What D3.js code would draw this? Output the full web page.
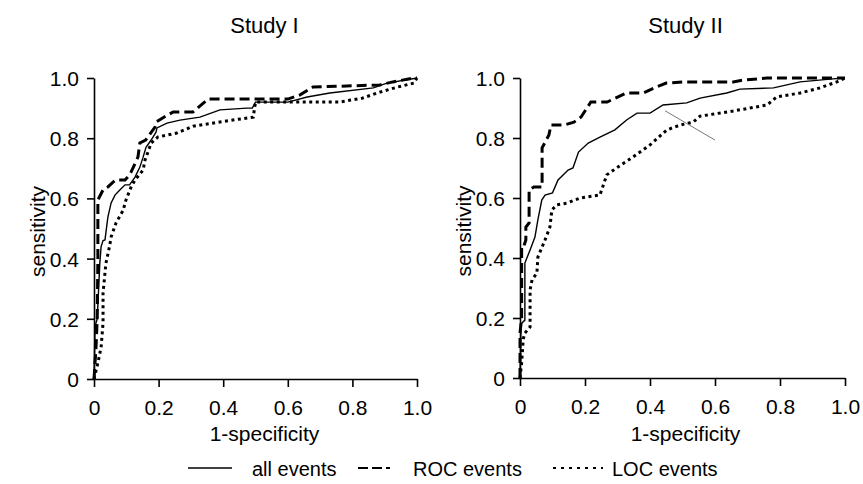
<!DOCTYPE html>
<html>
<head>
<meta charset="utf-8">
<script src="https://cdn.jsdelivr.net/npm/d3@7"></script>
<style>
  body { margin: 0; background: #fff; }
  svg { font-family: "Liberation Sans", Arial, sans-serif; }
  .axis path, .axis line { stroke: #000; stroke-width: 1.6; }
  .axis text { font-size: 21px; fill: #000; }
</style>
</head>
<body>
<svg id="chart" width="863" height="484"></svg>
<script>
// tick values shared by both panels
var ticks = [0, 0.2, 0.4, 0.6, 0.8, 1.0];
var titles = ["Study I", "Study II"];
var seriesNames = ["all events", "ROC events", "LOC events"];

// Study I (1-specificity, sensitivity)
var s1_all_x = [0, 0.003, 0.006, 0.01, 0.018, 0.022, 0.028, 0.034, 0.043, 0.053, 0.065, 0.08, 0.096, 0.11, 0.127, 0.142, 0.152, 0.161, 0.177, 0.192, 0.195, 0.226, 0.266, 0.328, 0.39, 0.473, 0.49, 0.5, 0.6, 0.66, 0.73, 0.865, 0.907, 1.0];
var s1_all_y = [0, 0.16, 0.186, 0.2, 0.385, 0.44, 0.46, 0.462, 0.538, 0.585, 0.611, 0.628, 0.645, 0.645, 0.671, 0.704, 0.737, 0.77, 0.794, 0.82, 0.834, 0.85, 0.86, 0.87, 0.894, 0.9, 0.9, 0.92, 0.92, 0.937, 0.95, 0.967, 0.983, 1.0];
var s1_roc_x = [0, 0.003, 0.006, 0.01, 0.012, 0.012, 0.028, 0.043, 0.059, 0.068, 0.096, 0.11, 0.115, 0.136, 0.142, 0.16, 0.189, 0.194, 0.215, 0.245, 0.306, 0.353, 0.6, 0.638, 0.678, 0.885, 0.925, 0.99, 1.0];
var s1_roc_y = [0, 0.05, 0.1, 0.2, 0.4, 0.595, 0.628, 0.638, 0.654, 0.661, 0.661, 0.678, 0.688, 0.737, 0.784, 0.794, 0.837, 0.855, 0.869, 0.887, 0.887, 0.93, 0.93, 0.944, 0.97, 0.977, 0.987, 1.0, 1.0];
var s1_loc_x = [0, 0.012, 0.022, 0.028, 0.028, 0.037, 0.048, 0.053, 0.068, 0.09, 0.099, 0.115, 0.127, 0.152, 0.158, 0.167, 0.177, 0.198, 0.256, 0.307, 0.39, 0.493, 0.5, 0.66, 0.76, 0.83, 0.885, 0.94, 0.99, 1.0];
var s1_loc_y = [0, 0.053, 0.106, 0.186, 0.286, 0.385, 0.44, 0.472, 0.518, 0.56, 0.595, 0.638, 0.661, 0.694, 0.728, 0.754, 0.784, 0.804, 0.817, 0.84, 0.854, 0.87, 0.92, 0.92, 0.92, 0.933, 0.953, 0.97, 0.983, 1.0];

// Study II
var s2_all_x = [0, 0.003, 0.006, 0.015, 0.015, 0.031, 0.046, 0.055, 0.067, 0.077, 0.1, 0.117, 0.148, 0.163, 0.18, 0.21, 0.246, 0.292, 0.328, 0.36, 0.4, 0.44, 0.513, 0.554, 0.636, 0.677, 0.78, 0.862, 0.963, 1.0];
var s2_all_y = [0, 0.18, 0.183, 0.193, 0.383, 0.427, 0.47, 0.527, 0.593, 0.61, 0.617, 0.66, 0.693, 0.7, 0.753, 0.783, 0.803, 0.827, 0.86, 0.883, 0.883, 0.91, 0.917, 0.933, 0.95, 0.963, 0.967, 0.987, 0.997, 1.0];
var s2_roc_x = [0, 0, 0.005, 0.005, 0.012, 0.018, 0.018, 0.028, 0.028, 0.043, 0.068, 0.068, 0.089, 0.095, 0.135, 0.166, 0.188, 0.218, 0.268, 0.328, 0.379, 0.42, 0.45, 0.51, 0.656, 0.687, 0.76, 1.0];
var s2_roc_y = [0, 0.15, 0.2, 0.44, 0.44, 0.46, 0.503, 0.517, 0.627, 0.637, 0.637, 0.767, 0.81, 0.843, 0.843, 0.853, 0.87, 0.92, 0.92, 0.95, 0.95, 0.97, 0.983, 0.987, 0.987, 0.993, 1.0, 1.0];
var s2_loc_x = [0, 0.005, 0.01, 0.015, 0.031, 0.031, 0.037, 0.052, 0.055, 0.077, 0.092, 0.098, 0.113, 0.144, 0.185, 0.246, 0.267, 0.297, 0.348, 0.4, 0.452, 0.492, 0.533, 0.554, 0.656, 0.76, 0.79, 0.862, 0.923, 0.975, 1.0];
var s2_loc_y = [0, 0.05, 0.13, 0.15, 0.17, 0.293, 0.327, 0.35, 0.403, 0.46, 0.503, 0.56, 0.577, 0.583, 0.6, 0.61, 0.677, 0.7, 0.737, 0.777, 0.827, 0.843, 0.853, 0.873, 0.89, 0.91, 0.937, 0.95, 0.967, 0.987, 1.0];

// thin grey marker line drawn across the Study II curves
var s2_mark_x = [0.446, 0.6];
var s2_mark_y = [0.891, 0.793];

function zip(xs, ys) {
  return xs.map(function (d, i) { return [d, ys[i]]; });
}

var styles = [
  { width: 1.4, dash: null },
  { width: 3, dash: "10,5" },
  { width: 3, dash: "3,3.5" }
];

var panels = [
  { left: 94, right: 417, top: 78, bottom: 379, shift: 9,
    series: [zip(s1_all_x, s1_all_y), zip(s1_roc_x, s1_roc_y), zip(s1_loc_x, s1_loc_y)] },
  { left: 520, right: 845, top: 78, bottom: 378, shift: 3,
    series: [zip(s2_all_x, s2_all_y), zip(s2_roc_x, s2_roc_y), zip(s2_loc_x, s2_loc_y)],
    mark: zip(s2_mark_x, s2_mark_y) }
];

var svg = d3.select("#chart");

function fmt(d) {
  return d === 0 ? "0" : d3.format(".1f")(d);
}

panels.forEach(function (p, k) {
  var x = d3.scaleLinear().domain([0, 1]).range([p.left, p.right]);
  var y = d3.scaleLinear().domain([0, 1]).range([p.bottom, p.top]);

  svg.append("g")
    .attr("class", "axis")
    .attr("transform", "translate(0," + p.bottom + ")")
    .call(d3.axisBottom(x).tickValues(ticks).tickFormat(fmt).tickSize(8).tickSizeOuter(0).tickPadding(13));

  svg.append("g")
    .attr("class", "axis")
    .attr("transform", "translate(" + p.left + ",0)")
    .call(d3.axisLeft(y).tickValues(ticks).tickFormat(fmt).tickSize(7).tickSizeOuter(0).tickPadding(8))
    .selectAll("text").attr("dy", "0.36em");

  var line = d3.line()
    .x(function (d) { return x(d[0]); })
    .y(function (d) { return y(d[1]); });

  p.series.forEach(function (s, i) {
    svg.append("path")
      .datum(s)
      .attr("d", line)
      .attr("fill", "none")
      .attr("stroke", "#000")
      .attr("stroke-width", styles[i].width)
      .attr("stroke-dasharray", styles[i].dash);
  });

  if (p.mark) {
    svg.append("path")
      .datum(p.mark)
      .attr("d", line)
      .attr("fill", "none")
      .attr("stroke", "#777")
      .attr("stroke-width", 1);
  }

  var cx = (p.left + p.right) / 2 + p.shift;
  svg.append("text")
    .attr("x", cx)
    .attr("y", 33)
    .attr("text-anchor", "middle")
    .style("font-size", "22px")
    .text(titles[k]);

  svg.append("text")
    .attr("x", cx)
    .attr("y", 441)
    .attr("text-anchor", "middle")
    .style("font-size", "21px")
    .text("1-specificity");

  svg.append("text")
    .attr("transform", "translate(" + (p.left - 49) + "," + ((p.top + p.bottom) / 2 + 3) + ") rotate(-90)")
    .attr("text-anchor", "middle")
    .style("font-size", "21px")
    .text("sensitivity");
});

// legend
var legendLine = [[188, 232], [358, 390], [553, 603]];
var legendText = [252, 413, 612];
var legend = svg.append("g");
seriesNames.forEach(function (name, i) {
  legend.append("line")
    .attr("x1", legendLine[i][0])
    .attr("x2", legendLine[i][1])
    .attr("y1", 468)
    .attr("y2", 468)
    .attr("stroke", "#000")
    .attr("stroke-width", i === 0 ? 1.4 : 2)
    .attr("stroke-dasharray", i === 1 ? "10,4" : (i === 2 ? "3,5" : null));
  legend.append("text")
    .attr("x", legendText[i])
    .attr("y", 476)
    .style("font-size", "20px")
    .text(name);
});
</script>
</body>
</html>
